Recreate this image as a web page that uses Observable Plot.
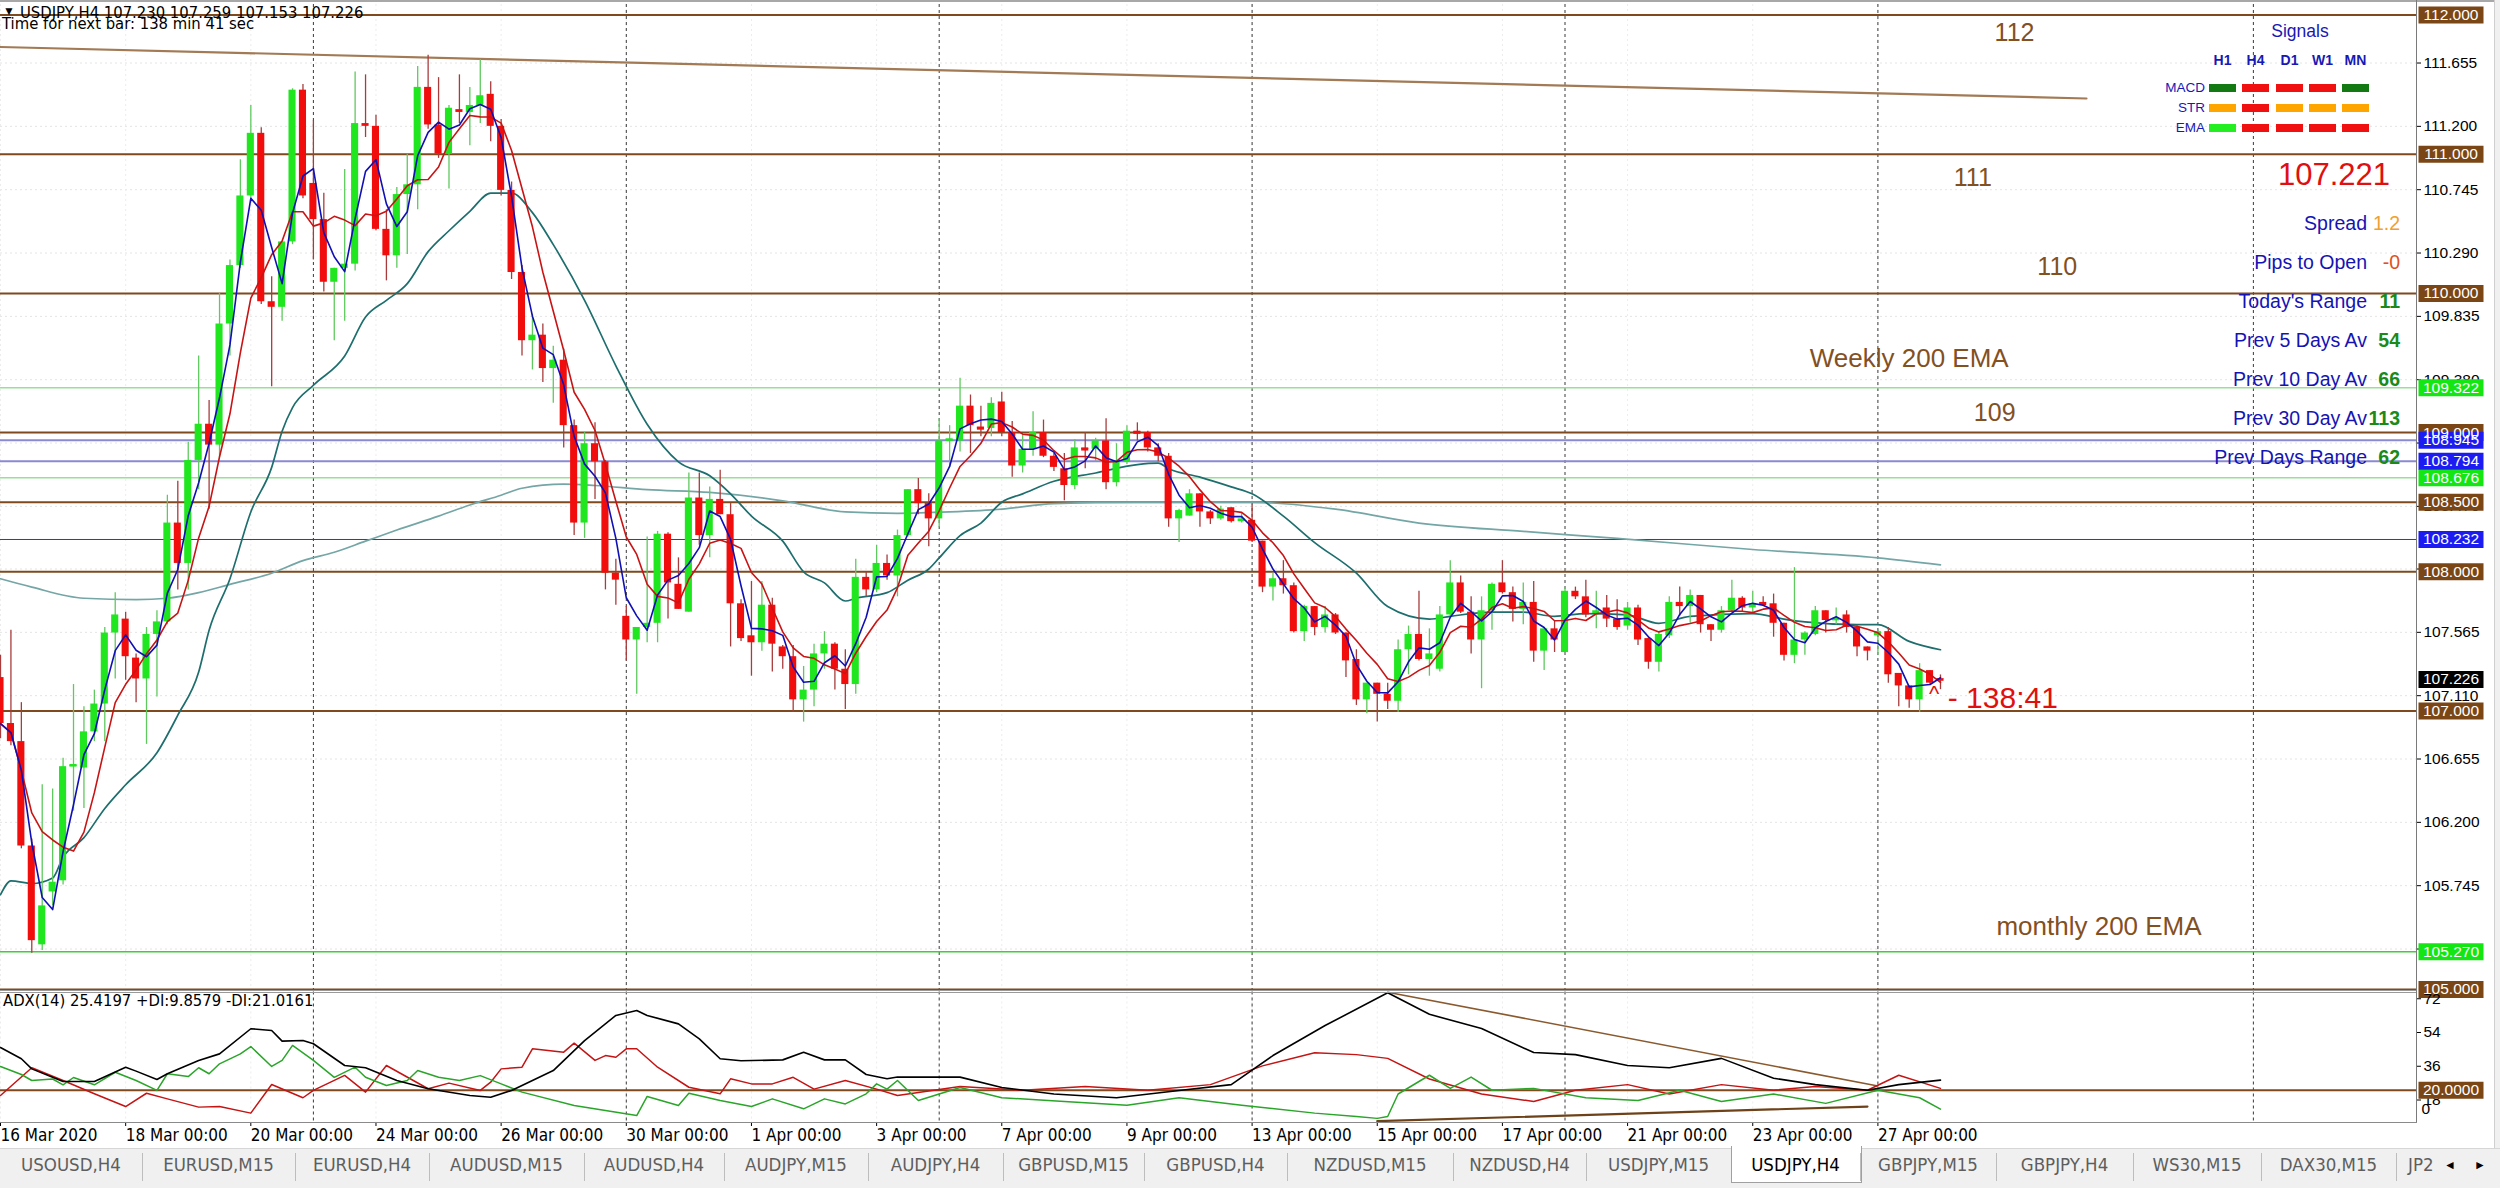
<!DOCTYPE html>
<html><head><meta charset="utf-8">
<script src="https://cdn.jsdelivr.net/npm/d3@7"></script>
<script src="https://cdn.jsdelivr.net/npm/@observablehq/plot@0.6"></script>
<style>
html,body{margin:0;padding:0;background:#fff;overflow:hidden;}
#wrap{position:relative;width:2500px;height:1188px;overflow:hidden;background:#fff;font-family:"Liberation Sans",Arial,sans-serif;}
#wrap svg{position:absolute;left:0;max-width:none;}
.t{position:absolute;white-space:nowrap;line-height:1.2;}
.box{position:absolute;}
</style></head><body><div id="wrap"></div>
<script>
// ---------------- DATA ----------------
const symbolTitle = "USDJPY,H4  107.230 107.259 107.153 107.226";
const timerText = "Time for next bar: 138 min 41 sec";
const adxTitle = "ADX(14) 25.4197 +DI:9.8579 -DI:21.0161";

const candleOpen = [107.24,106.91,106.78,106.03,105.32,105.70,105.78,106.60,106.59,106.85,
107.05,107.56,107.66,107.38,107.23,107.55,107.64,108.35,108.06,108.80,
109.06,108.91,109.78,110.20,110.70,111.15,109.94,109.90,110.37,111.46,
110.79,110.53,110.08,110.18,110.21,111.22,111.20,110.46,110.27,110.71,
110.78,111.48,111.21,111.00,111.32,111.30,111.35,111.43,111.20,110.74,
110.15,109.66,109.70,109.46,109.52,109.05,108.35,108.92,108.79,107.99,
107.68,107.51,107.60,107.63,108.27,107.91,107.71,108.53,108.26,108.52,
108.41,107.77,107.54,107.49,107.76,107.46,107.39,107.08,107.15,107.41,
107.48,107.30,107.19,107.96,107.87,108.06,107.97,108.26,108.59,108.49,
108.38,108.94,108.94,109.19,109.04,109.03,109.22,109.00,108.76,108.88,
109.00,108.83,108.74,108.62,108.89,108.88,108.94,108.64,108.79,109.01,
109.00,108.89,108.83,108.38,108.40,108.56,108.43,108.38,108.46,108.36,
108.37,108.22,107.89,107.95,107.90,107.57,107.75,107.60,107.69,107.56,
107.37,107.08,107.20,107.12,107.07,107.44,107.55,107.37,107.30,107.69,
107.92,107.71,107.51,107.72,107.92,107.85,107.73,107.78,107.43,107.59,
107.42,107.86,107.82,107.70,107.74,107.66,107.61,107.74,107.52,107.35,
107.54,107.78,107.75,107.83,107.62,107.58,107.72,107.81,107.74,107.78,
107.77,107.63,107.40,107.51,107.55,107.72,107.65,107.69,107.60,107.46,
107.54,107.57,107.27,107.18,107.08,107.29,107.230];
const candleHigh = [107.40,107.58,107.06,106.08,106.47,106.44,106.66,107.19,107.03,107.15,
107.60,107.85,107.71,107.41,107.60,107.72,108.55,108.65,108.93,109.55,
109.23,110.00,110.24,110.96,111.35,111.19,110.12,110.37,111.47,111.50,
111.24,110.72,110.18,110.89,111.59,111.57,111.28,110.60,110.76,111.00,
111.63,111.71,111.55,111.35,111.57,111.48,111.68,111.52,111.25,110.80,
110.20,109.85,109.78,109.62,109.60,109.09,109.00,109.07,108.80,108.09,
107.75,107.60,108.25,108.29,108.28,108.10,108.71,108.71,108.61,108.73,
108.49,107.80,107.93,107.93,107.81,107.47,107.47,107.32,107.48,107.57,
107.49,107.44,108.09,108.00,108.19,108.12,108.30,108.59,108.67,108.56,
109.10,109.05,109.39,109.27,109.19,109.25,109.29,109.08,108.98,109.15,
109.09,108.85,108.85,108.95,109.00,108.96,109.10,108.92,109.05,109.07,
109.01,108.92,108.85,108.45,108.59,108.56,108.44,108.47,108.46,108.42,
108.48,108.22,107.99,108.08,107.92,107.76,107.75,107.75,107.70,107.56,
107.44,107.20,107.20,107.20,107.51,107.61,107.86,107.59,107.75,108.08,
107.97,107.82,107.82,107.92,108.08,107.89,107.92,107.93,107.59,107.65,
107.88,107.89,107.94,107.86,107.83,107.80,107.78,107.76,107.53,107.57,
107.82,107.89,107.87,107.83,107.62,107.75,107.94,107.82,107.86,107.82,
107.84,107.63,108.03,107.57,107.75,107.72,107.74,107.72,107.61,107.46,
107.58,107.60,107.27,107.18,107.34,107.29,107.259];
const candleLow = [106.80,106.75,106.01,105.26,105.28,105.60,105.75,106.28,106.30,106.78,
106.78,107.23,107.22,107.06,106.76,107.10,107.62,107.87,107.87,108.59,
108.45,108.82,109.55,110.18,110.65,109.92,109.33,109.80,110.35,110.68,
110.24,110.01,109.66,109.80,110.16,111.12,110.45,110.09,110.18,110.28,
110.60,111.18,110.97,110.75,111.22,111.06,111.22,111.09,110.70,110.10,
109.55,109.45,109.36,109.21,108.89,108.26,108.24,108.52,107.87,107.76,
107.36,107.12,107.49,107.49,107.66,107.73,107.71,108.19,108.10,108.41,
107.46,107.50,107.25,107.43,107.28,107.30,106.99,106.92,107.03,107.30,
107.15,107.01,107.12,107.82,107.85,107.94,107.82,108.25,108.41,108.18,
108.32,108.75,108.86,108.85,108.97,108.97,108.97,108.68,108.71,108.83,
108.82,108.72,108.51,108.59,108.74,108.79,108.59,108.61,108.77,108.94,
108.86,108.79,108.32,108.21,108.40,108.32,108.34,108.37,108.35,108.35,
108.21,107.85,107.79,107.84,107.56,107.50,107.54,107.56,107.55,107.24,
107.04,106.98,106.92,107.01,106.99,107.26,107.36,107.25,107.28,107.68,
107.70,107.41,107.16,107.58,107.84,107.64,107.62,107.35,107.29,107.42,
107.42,107.80,107.67,107.59,107.60,107.58,107.58,107.47,107.30,107.28,
107.52,107.68,107.63,107.56,107.50,107.56,107.71,107.71,107.70,107.75,
107.53,107.36,107.34,107.40,107.54,107.56,107.62,107.56,107.39,107.36,
107.40,107.20,107.03,107.02,106.99,107.19,107.153];
const candleClose = [106.91,106.78,106.03,105.35,105.60,105.77,106.60,106.61,106.85,107.05,
107.56,107.69,107.39,107.23,107.55,107.64,108.35,108.06,108.80,109.06,
108.91,109.78,110.20,110.70,111.15,109.94,109.90,110.37,111.46,110.70,
110.53,110.08,110.18,110.21,111.22,111.20,110.46,110.27,110.71,110.78,
111.48,111.21,111.00,111.33,111.30,111.35,111.42,111.20,110.74,110.15,
109.66,109.70,109.46,109.52,109.05,108.35,108.92,108.79,107.99,107.94,
107.51,107.60,107.63,108.27,107.92,107.73,108.53,108.26,108.52,108.41,
107.77,107.52,107.49,107.76,107.48,107.39,107.08,107.15,107.41,107.48,
107.30,107.19,107.96,107.87,108.06,107.97,108.26,108.59,108.49,108.38,
108.94,108.95,109.19,109.05,109.03,109.21,109.00,108.76,108.88,109.00,
108.83,108.75,108.62,108.89,108.88,108.94,108.64,108.79,109.01,109.00,
108.89,108.83,108.38,108.44,108.56,108.43,108.38,108.45,108.36,108.38,
108.22,107.89,107.95,107.90,107.57,107.75,107.60,107.69,107.56,107.36,
107.08,107.20,107.12,107.07,107.44,107.55,107.37,107.41,107.69,107.92,
107.71,107.51,107.72,107.91,107.85,107.73,107.78,107.43,107.59,107.51,
107.86,107.82,107.69,107.72,107.66,107.60,107.74,107.51,107.35,107.55,
107.78,107.75,107.83,107.62,107.58,107.72,107.81,107.74,107.77,107.77,
107.63,107.40,107.51,107.56,107.72,107.65,107.66,107.60,107.46,107.43,
107.57,107.26,107.18,107.08,107.29,107.20,107.226];

// slow moving average (teal) read at sample bars
const slowMaBars = [0,1,3,5,6,8,10,12,15,17,19,20,22,24,26,27,28,30,33,35,37,39,41,43,45,47,49,51,53,56,59,62,65,68,70,72,75,77,79,81,82,85,87,89,90,92,94,96,98,101,105,109,111,112,115,118,120,123,126,130,133,137,139,143,146,149,152,156,159,162,168,171,173,178,180,183,186];
const slowMaValues = [105.68,105.78,105.76,105.80,105.95,106.09,106.30,106.47,106.70,106.97,107.28,107.58,107.95,108.43,108.75,109.01,109.18,109.34,109.55,109.83,109.95,110.07,110.30,110.45,110.59,110.72,110.72,110.58,110.35,109.95,109.48,109.06,108.79,108.69,108.56,108.40,108.22,108.00,107.92,107.79,107.81,107.85,107.94,108.02,108.10,108.26,108.35,108.50,108.56,108.65,108.71,108.77,108.78,108.74,108.68,108.61,108.56,108.40,108.21,107.99,107.75,107.66,107.68,107.71,107.71,107.68,107.70,107.69,107.63,107.68,107.70,107.66,107.64,107.62,107.62,107.50,107.44];
// long (200) moving average read at sample bars
const longMaBars = [0,3,8,13,16,19,22,26,29,32,35,38,42,45,48,50,54,57,62,68,75,81,86,91,96,101,109,120,128,136,146,155,168,180,186];
const longMaValues = [107.95,107.89,107.81,107.80,107.81,107.85,107.91,107.99,108.08,108.14,108.22,108.30,108.40,108.48,108.55,108.60,108.63,108.62,108.59,108.57,108.51,108.43,108.42,108.43,108.45,108.49,108.50,108.50,108.45,108.35,108.29,108.24,108.16,108.10,108.05];

// horizontal price levels
const levelPrices = [112.000,111.000,110.000,109.000,108.500,108.000,107.000,105.000,109.322,108.676,105.270,108.945,108.794,108.232];
const levelKinds  = ["round","round","round","round","round","round","round","round","weekly","weekly","monthly","pivot","pivot","pivotLow"];
const currentPrice = [107.226];
const priceTickLabels = [111.655,111.200,110.745,110.290,109.835,109.380,108.925,108.470,108.020,107.565,107.110,106.655,106.200,105.745,105.290];
const trendBars = [0,200];
const trendPrices = [111.77,111.40];

// date axis
const dateTickBars = [0,12,24,36,48,60,72,84,96,108,120,132,144,156,168,180];
const dateTickLabels = ["16 Mar 2020","18 Mar 00:00","20 Mar 00:00","24 Mar 00:00","26 Mar 00:00","30 Mar 00:00","1 Apr 00:00","3 Apr 00:00","7 Apr 00:00","9 Apr 00:00","13 Apr 00:00","15 Apr 00:00","17 Apr 00:00","21 Apr 00:00","23 Apr 00:00","27 Apr 00:00"];
const weekSeparatorBars = [30,60,90,120,150,180,216];

// ADX(14) panel, read at sample bars
const adxBars = [0,2,3,6,9,12,13,15,16,19,21,24,26,27,29,30,33,35,38,41,45,47,49,53,56,59,61,62,65,67,69,71,75,77,79,81,83,85,86,92,96,101,107,113,118,122,127,133,137,142,147,151,156,160,165,170,174,179,182,186];
const adxValues = [42.8,36.8,31.4,24.7,24.7,32.3,30.2,25.7,28.8,35.9,39.4,52.8,51.9,46.2,46.5,44.8,33.2,32.0,25.2,20.8,17.2,16.3,19.9,30.5,46.5,59.9,62.5,59.9,55.4,47.4,36.8,35.7,36.2,40.3,36.2,36.2,28.4,26.1,27.1,27.0,21.5,18.0,16.0,19.9,23.0,38.5,54.5,72.0,60.5,52.9,40.1,39.0,33.2,32.0,37.0,26.4,23.0,20.0,23.0,25.4];
const plusDiBars = [0,2,3,5,6,7,9,11,13,15,16,18,19,20,21,23,24,26,27,28,30,32,34,35,37,39,40,42,44,46,48,50,55,58,61,62,65,66,69,72,74,77,79,81,83,84,85,86,88,92,96,102,108,113,119,126,130,132,133,134,137,139,141,143,147,152,157,161,165,170,175,180,184,186];
const plusDiValues = [32.7,28.4,25.2,26.0,22.9,26.8,22.9,29.6,25.2,19.9,28.8,27.3,32.0,28.8,34.1,39.4,43.3,32.7,35.9,43.9,35.9,26.9,32.3,26.9,22.5,25.2,30.5,26.9,25.2,27.8,23.4,19.0,11.9,9.2,6.5,16.7,11.9,18.4,14.5,11.3,15.4,10.1,15.4,12.7,18.1,23.4,20.6,25.2,14.5,21.5,16.0,14.0,12.0,16.0,12.0,7.8,6.0,5.0,6.0,18.0,28.0,21.0,27.0,20.0,21.0,16.0,14.5,20.0,14.0,18.0,13.0,20.0,16.0,9.9];
const minusDiBars = [0,3,6,9,12,14,16,19,21,24,26,29,30,33,35,37,41,43,46,47,48,50,51,54,55,57,58,59,60,61,63,66,69,70,72,74,76,78,81,84,86,92,98,104,110,116,121,126,130,133,137,142,147,151,156,160,165,170,174,179,182,186];
const minusDiValues = [17.2,32.0,25.2,18.1,11.3,18.4,15.4,11.0,11.3,7.8,23.1,16.0,19.9,27.9,19.0,33.2,20.8,23.8,19.9,24.3,31.4,32.3,42.1,40.3,45.1,35.9,38.5,37.6,42.1,42.1,32.3,21.6,18.1,26.1,23.4,23.4,26.9,20.6,25.2,20.6,17.2,22.0,20.0,22.0,20.0,23.0,33.0,40.0,39.0,37.0,26.0,18.0,14.0,20.0,23.0,18.0,23.0,20.0,22.0,20.0,28.0,21.0];
const adxLevel = [20];
const adxTickLabels = [72,54,36,18];
const adxTrendUpperBars = [133,180];
const adxTrendUpperValues = [72.3,22.3];
const adxTrendLowerBars = [132,179];
const adxTrendLowerValues = [3.5,11.3];

// info panel
const infoLabels = ["Spread","Pips to Open","Today's Range","Prev 5 Days Av","Prev 10 Day Av","Prev 30 Day Av","Prev Days Range"];
const infoValues = ["1.2","-0","11","54","66","113","62"];
const infoValueKinds = ["spread","open","range","range","range","range","range"];
const bidText = "107.221";
const signalCols = ["H1","H4","D1","W1","MN"];
const signalRows = ["MACD","STR","EMA"];
const signalStates = {
  MACD: ["bull","bear","bear","bear","bull"],
  STR:  ["flat","bear","flat","flat","flat"],
  EMA:  ["bull","bear","bear","bear","bear"]
};
const levelNotes = ["112","111","110","Weekly 200 EMA","109","monthly 200 EMA"];
const countdownText = "- 138:41";
const tabNames = ["USOUSD,H4","EURUSD,M15","EURUSD,H4","AUDUSD,M15","AUDUSD,H4","AUDJPY,M15","AUDJPY,H4","GBPUSD,M15","GBPUSD,H4","NZDUSD,M15","NZDUSD,H4","USDJPY,M15","USDJPY,H4","GBPJPY,M15","GBPJPY,H4","WS30,M15","DAX30,M15","JP2"];
const activeTab = "USDJPY,H4";

// ---------------- BUILD ----------------
const wrap = document.getElementById("wrap");
const SANS = "'Liberation Sans', Arial, sans-serif";
const NARROW = "'Liberation Sans Narrow','DejaVu Sans Condensed','Arial Narrow',sans-serif";
const BROWN = "#7e4a1e";
const BULL = "#1fe61f", BEAR = "#f20d0d", WICK_BULL = "#5fc95f", WICK_BEAR = "#a83c3c";

const candles = candleOpen.map((o, i) => ({i, open: o, high: candleHigh[i], low: candleLow[i], close: candleClose[i]}));
const zip = (xs, ys) => xs.map((x, k) => ({x, y: ys[k]}));
const slowMa = zip(slowMaBars, slowMaValues);
const longMa = zip(longMaBars, longMaValues);
const trend = zip(trendBars, trendPrices);
const levels = levelPrices.map((p, k) => ({price: p, kind: levelKinds[k]}));
const levelStyle = {
  round:   {line: BROWN, width: 2, box: "#7b4616"},
  weekly:  {line: "#98df98", width: 1.5, box: "#14e614"},
  monthly: {line: "#3ccf3c", width: 1.5, box: "#14e614"},
  pivot:   {line: "#8a8ad2", width: 2, box: "#1c1cf2"},
  pivotLow:{line: "#3a3a96", width: 1, box: "#1c1cf2"}
};
const boxOrder = ["round","weekly","monthly","pivot","pivotLow"];
const dateLabel = new Map(dateTickBars.map((b, k) => [b, dateTickLabels[k]]));

const plotW = 2416, barPx = 10.43;
const xDomain = [0, plotW / barPx];
const boxSymbol = (w, h) => ({draw(ctx) { ctx.moveTo(-w/2, -h/2); ctx.lineTo(w/2, -h/2); ctx.lineTo(w/2, h/2); ctx.lineTo(-w/2, h/2); ctx.closePath(); }});
const priceBox = boxSymbol(65, 17);

const isBull = d => d.close >= d.open;
const bodyHalf = 0.34;
const boxText = {frameAnchor: "right", dx: 34.5, textAnchor: "middle", fill: "#fff", fontSize: 15.5, fontFamily: SANS};

const main = Plot.plot({
  width: 2500, height: 990,
  marginLeft: 0, marginRight: 84, marginTop: 4, marginBottom: 0,
  x: {domain: xDomain, axis: null},
  y: {domain: [104.992, 112.0754], axis: null},
  style: {background: "transparent", fontFamily: SANS, fontSize: "15.5px", overflow: "visible"},
  marks: [
    Plot.ruleY(priceTickLabels, {stroke: "#e4e4e4", strokeDasharray: "2,3"}),
    Plot.ruleX(dateTickBars, {stroke: "#ececec", strokeDasharray: "2,3"}),
    Plot.ruleX(weekSeparatorBars, {stroke: "#3a3a3a", strokeDasharray: "3,3", strokeWidth: 1}),
    ...boxOrder.map(k => Plot.ruleY(levels.filter(d => d.kind === k), {y: "price", stroke: levelStyle[k].line, strokeWidth: levelStyle[k].width})),
    Plot.line(trend, {x: "x", y: "y", stroke: "#a27a55", strokeWidth: 2.2}),
    Plot.line(longMa, {x: "x", y: "y", stroke: "#74a6a6", strokeWidth: 1.7, curve: "monotone-x"}),
    Plot.line(slowMa, {x: "x", y: "y", stroke: "#1e6e6e", strokeWidth: 1.7, curve: "monotone-x"}),
    Plot.ruleX(candles, {x: "i", y1: "low", y2: "high", stroke: d => isBull(d) ? WICK_BULL : WICK_BEAR, strokeWidth: 1.3}),
    Plot.rect(candles, {x1: d => d.i - bodyHalf, x2: d => d.i + bodyHalf, y1: "open", y2: "close", fill: d => isBull(d) ? BULL : BEAR}),
    Plot.ruleY(candles.filter(d => Math.abs(d.close - d.open) < 0.015), {y: "close", x1: d => d.i - bodyHalf, x2: d => d.i + bodyHalf, stroke: d => isBull(d) ? BULL : BEAR, strokeWidth: 2.5}),
    Plot.lineY(candles, Plot.windowY({k: 6, anchor: "end"}, {x: "i", y: "close", stroke: "#c81414", strokeWidth: 1.6})),
    Plot.lineY(candles, Plot.windowY({k: 3, anchor: "end"}, {x: "i", y: "close", stroke: "#1010b4", strokeWidth: 1.6})),
    // level notes
    Plot.text([levelNotes[0]], {x: 193.1, y: 111.874, fill: "#83501f", fontSize: 25, fontFamily: SANS}),
    Plot.text([levelNotes[1]], {x: 189.1, y: 110.83, fill: "#83501f", fontSize: 25, fontFamily: SANS}),
    Plot.text([levelNotes[2]], {x: 197.2, y: 110.193, fill: "#83501f", fontSize: 25, fontFamily: SANS}),
    Plot.text([levelNotes[3]], {x: 183.0, y: 109.53, fill: "#83501f", fontSize: 26, fontFamily: SANS}),
    Plot.text([levelNotes[4]], {x: 191.2, y: 109.14, fill: "#83501f", fontSize: 25, fontFamily: SANS}),
    Plot.text([levelNotes[5]], {x: 201.2, y: 105.45, fill: "#83501f", fontSize: 26, fontFamily: SANS}),
    Plot.text(["^"], {x: 185.4, y: 107.12, fill: "#e01010", fontSize: 22, fontFamily: SANS}),
    Plot.text([countdownText], {x: 186.7, y: 107.09, textAnchor: "start", fill: "#e01010", fontSize: 30, fontFamily: SANS}),
    // price axis
    Plot.axisY(priceTickLabels, {anchor: "right", tickSize: 4, tickPadding: 3, tickFormat: d => d.toFixed(3), fontSize: 15.5, fontFamily: SANS, label: null, stroke: "#000"}),
    ...boxOrder.map(k => Plot.dot(levels.filter(d => d.kind === k), {y: "price", frameAnchor: "right", dx: 34.5, symbol: priceBox, fill: levelStyle[k].box, stroke: "none"})),
    ...boxOrder.map(k => Plot.text(levels.filter(d => d.kind === k), {y: "price", text: d => d.price.toFixed(3), ...boxText})),
    Plot.dot(currentPrice, {y: d => d, frameAnchor: "right", dx: 34.5, symbol: priceBox, fill: "#000", stroke: "none"}),
    Plot.text(currentPrice, {y: d => d, text: d => d.toFixed(3), ...boxText})
  ]
});
main.style.top = "0px";
wrap.appendChild(main);

const adx = zip(adxBars, adxValues);
const plusDi = zip(plusDiBars, plusDiValues);
const minusDi = zip(minusDiBars, minusDiValues);
const adxUp = zip(adxTrendUpperBars, adxTrendUpperValues);
const adxLow = zip(adxTrendLowerBars, adxTrendLowerValues);
const adxBox = boxSymbol(65, 17);

const sub = Plot.plot({
  width: 2500, height: 158,
  marginLeft: 0, marginRight: 84, marginTop: 1.5, marginBottom: 26,
  x: {domain: xDomain, axis: null},
  y: {domain: [2.8, 72.4], axis: null},
  style: {background: "transparent", fontFamily: SANS, fontSize: "15.5px", overflow: "visible"},
  marks: [
    Plot.ruleX(dateTickBars, {stroke: "#ececec", strokeDasharray: "2,3"}),
    Plot.ruleX(weekSeparatorBars, {stroke: "#3a3a3a", strokeDasharray: "3,3", strokeWidth: 1}),
    Plot.ruleY(adxLevel, {stroke: BROWN, strokeWidth: 2}),
    Plot.line(adxUp, {x: "x", y: "y", stroke: "#8a5a2e", strokeWidth: 1.6}),
    Plot.line(adxLow, {x: "x", y: "y", stroke: "#6e4218", strokeWidth: 2.2}),
    Plot.line(minusDi, {x: "x", y: "y", stroke: "#c41414", strokeWidth: 1.5}),
    Plot.line(plusDi, {x: "x", y: "y", stroke: "#2aa52a", strokeWidth: 1.5}),
    Plot.line(adx, {x: "x", y: "y", stroke: "#000", strokeWidth: 1.6}),
    Plot.axisY(adxTickLabels, {anchor: "right", tickSize: 4, tickPadding: 3, dy: 6, fontSize: 15.5, fontFamily: SANS, label: null}),
    Plot.text(["0"], {frameAnchor: "bottom-right", dx: 5, dy: -9, textAnchor: "start", fontSize: 15.5, fontFamily: SANS}),
    Plot.dot(adxLevel, {y: d => d, frameAnchor: "right", dx: 34.5, symbol: adxBox, fill: "#7b4616", stroke: "none"}),
    Plot.text(adxLevel, {y: d => d, text: d => d.toFixed(4), ...boxText}),
    Plot.axisX(dateTickBars, {anchor: "bottom", tickSize: 4, tickPadding: 2, tickFormat: d => dateLabel.get(d), textAnchor: "start", fontSize: 17, fontFamily: NARROW, label: null})
  ]
});
sub.style.top = "990px";
wrap.appendChild(sub);

// ---------------- chrome & overlays (HTML) ----------------
function box(left, top, w, h, css, parent) {
  const d = document.createElement("div"); d.className = "box";
  Object.assign(d.style, {left: left + "px", top: top + "px", width: w + "px", height: h + "px"}, css || {});
  (parent || wrap).appendChild(d); return d;
}
function txt(s, x, cy, opt, parent) {
  const o = Object.assign({anchor: "start", size: 16, color: "#000", weight: "normal", family: SANS}, opt || {});
  const d = document.createElement("div"); d.className = "t"; d.textContent = s;
  Object.assign(d.style, {fontSize: o.size + "px", color: o.color, fontWeight: o.weight, fontFamily: o.family, top: (cy - o.size * 0.6) + "px"});
  if (o.anchor === "end") d.style.right = (2500 - x) + "px";
  else if (o.anchor === "middle") { d.style.left = x + "px"; d.style.transform = "translateX(-50%)"; }
  else d.style.left = x + "px";
  (parent || wrap).appendChild(d); return d;
}

// frame lines
box(0, 0, 2495, 2, {background: "#a8a8a8"});
box(2416, 0, 1, 1123, {background: "#7a7a7a"});
box(0, 990, 2416, 1, {background: "#9a9a9a"});
box(0, 992, 2416, 1, {background: "#9a9a9a"});
box(0, 1122, 2417, 1, {background: "#8a8a8a"});
box(2494, 0, 6, 1148, {background: "#f0f0f0", borderLeft: "1px solid #cfcfcf"});

// header texts
txt("▼", 3, 11, {size: 12, family: SANS});
txt(symbolTitle, 20, 13, {size: 16.5, family: NARROW});
txt(timerText, 2, 24, {size: 16.5, family: NARROW});
txt(adxTitle, 3, 1001, {size: 16.5, family: NARROW});

// signals panel
const signalColors = {
  MACD: {bull: "#137a13", bear: "#f01010", flat: "#ffa500"},
  STR:  {bull: "#137a13", bear: "#f01010", flat: "#ffa500"},
  EMA:  {bull: "#22ee22", bear: "#f01010", flat: "#ffa500"}
};
const sigColX = [2222.5, 2255.5, 2289.5, 2322.5, 2355.5];
const sigRowY = [88, 108, 128];
txt("Signals", 2300, 31, {anchor: "middle", size: 17.5, color: "#1818b4"});
signalCols.forEach((c, k) => txt(c, sigColX[k], 60, {anchor: "middle", size: 14, weight: "bold", color: "#1818b4"}));
signalRows.forEach((r, ri) => {
  txt(r, 2205, sigRowY[ri], {anchor: "end", size: 13.5, color: "#1818b4"});
  signalStates[r].forEach((s, k) => box(sigColX[k] - 13.5, sigRowY[ri] - 4, 27, 8, {background: signalColors[r][s]}));
});

// info panel
txt(bidText, 2390, 175, {anchor: "end", size: 31, color: "#e01010"});
const infoValueColor = {spread: "#f0a030", open: "#e0501e", range: "#1a8a1a"};
infoLabels.forEach((l, k) => {
  const cy = 224 + k * 39;
  txt(l, 2367, cy, {anchor: "end", size: 19.5, color: "#1414b4"});
  txt(infoValues[k], 2400, cy, {anchor: "end", size: 19.5, color: infoValueColor[infoValueKinds[k]], weight: infoValueKinds[k] === "range" ? "bold" : "normal"});
});

// tabs
const tabEdges = [0,142,295,429,584,724,868,1003,1144,1287,1453,1586,1731,1860,1996,2133,2261,2396,2432];
box(0, 1148, 2500, 40, {background: "#f0f0f0", borderTop: "1px solid #d6d6d6"});
tabNames.forEach((n, k) => {
  const l = tabEdges[k], r = tabEdges[k + 1];
  const active = n === activeTab;
  if (active) box(l, 1146, r - l, 36, {background: "#fff", borderLeft: "1px solid #a0a0a0", borderRight: "1px solid #a0a0a0", borderBottom: "1px solid #a0a0a0"});
  else if (k > 0) box(l, 1153, 1, 28, {background: "#bdbdbd"});
  if (k === tabNames.length - 1) txt(n, l + 12, 1165, {size: 18.5, family: NARROW, color: "#5e5e5e"});
  else txt(n, (l + r) / 2, 1165, {anchor: "middle", size: 18.5, family: NARROW, color: active ? "#000" : "#5e5e5e"});
});
txt("◄", 2450, 1165, {anchor: "middle", size: 12});
txt("►", 2480, 1165, {anchor: "middle", size: 12});
</script></body></html>
